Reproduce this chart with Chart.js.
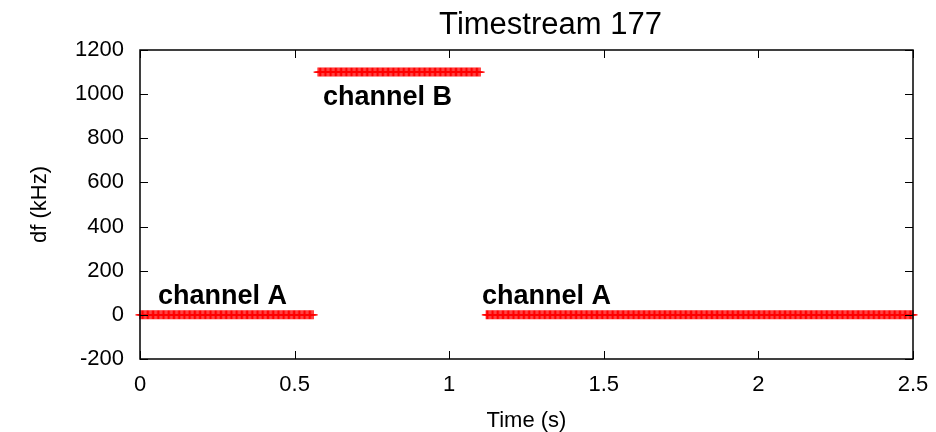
<!DOCTYPE html>
<html>
<head>
<meta charset="utf-8">
<script src="https://cdn.jsdelivr.net/npm/chart.js@4/dist/chart.umd.min.js"></script>
<style>
  html, body { margin: 0; padding: 0; background: #fff; }
  #wrap { width: 936px; height: 432px; position: relative; }
</style>
</head>
<body>
<div id="wrap"><canvas id="c" width="936" height="432"></canvas></div>
<script>
// Timestream 177: frequency shift per channel over time
const chartTitle = "Timestream 177";
const xTitle = "Time (s)";
const yTitle = "df (kHz)";

const xTicks = [0, 0.5, 1, 1.5, 2, 2.5];
const xTickLabels = ["0", "0.5", "1", "1.5", "2", "2.5"];
const yTicks = [-200, 0, 200, 400, 600, 800, 1000, 1200];
const yTickLabels = ["-200", "0", "200", "400", "600", "800", "1000", "1200"];

// sampling period of the timestream (s)
const samplePeriod = 0.004;

// segments: which channel was read, from/to time (s), measured df (kHz)
const segChannel = ["channel A", "channel B", "channel A"];
const segStart   = [0.0,   0.576, 1.12];
const segEnd     = [0.56,  1.10,  2.5];
const segLevel   = [0,     1100,  0];

// label anchors (data units) for each segment
const labelX = [0.058, 0.592, 1.106];
const labelY = [81, 986, 81];

function segmentPoints(i) {
  const pts = [];
  const n = Math.round((segEnd[i] - segStart[i]) / samplePeriod);
  for (let k = 0; k <= n; k++) {
    pts.push({ x: +(segStart[i] + k * samplePeriod).toFixed(4), y: segLevel[i] });
  }
  return pts;
}

const FONT = "'Liberation Sans', Arial, sans-serif";

const frame = {
  id: 'frame',
  afterDatasetsDraw(chart) {
    const { ctx, chartArea: a, scales } = chart;
    const xs = scales.x, ys = scales.y;
    ctx.save();
    ctx.strokeStyle = '#000';
    ctx.lineWidth = 1.5;
    ctx.strokeRect(a.left, a.top, a.right - a.left, a.bottom - a.top);
    ctx.lineWidth = 1;
    const tl = 8;
    ctx.beginPath();
    yTicks.forEach(v => {
      const p = Math.round(ys.getPixelForValue(v)) + 0.5;
      ctx.moveTo(a.left, p); ctx.lineTo(a.left + tl, p);
      ctx.moveTo(a.right, p); ctx.lineTo(a.right - tl, p);
    });
    xTicks.forEach(v => {
      const p = Math.round(xs.getPixelForValue(v)) + 0.5;
      ctx.moveTo(p, a.bottom); ctx.lineTo(p, a.bottom - tl);
      ctx.moveTo(p, a.top); ctx.lineTo(p, a.top + tl);
    });
    ctx.stroke();

    // segment labels
    ctx.fillStyle = '#000';
    ctx.font = "bold 27px " + FONT;
    ctx.textAlign = 'left';
    ctx.textBaseline = 'middle';
    segChannel.forEach((t, i) => {
      ctx.fillText(t, xs.getPixelForValue(labelX[i]), ys.getPixelForValue(labelY[i]));
    });

    // titles
    ctx.font = "31px " + FONT;
    ctx.textAlign = 'center';
    ctx.textBaseline = 'alphabetic';
    ctx.fillText(chartTitle, (a.left + a.right) / 2 + 24, 34);
    ctx.font = "22px " + FONT;
    ctx.fillText(xTitle, (a.left + a.right) / 2, 427);
    ctx.save();
    ctx.translate(40, (a.top + a.bottom) / 2);
    ctx.rotate(-Math.PI / 2);
    ctx.textBaseline = 'middle';
    ctx.fillText(yTitle, 0, 0);
    ctx.restore();
    ctx.restore();
  }
};

new Chart(document.getElementById('c'), {
  type: 'scatter',
  data: {
    datasets: segChannel.map((name, i) => ({
      label: name,
      data: segmentPoints(i),
      pointStyle: 'cross',
      pointRadius: 4.5,
      pointHoverRadius: 4.5,
      borderColor: '#ff0000',
      backgroundColor: '#ff0000',
      pointBorderWidth: 1.2,
      showLine: false,
      clip: false
    }))
  },
  options: {
    responsive: false,
    animation: false,
    events: [],
    layout: { padding: { top: 50, right: 23, left: 0, bottom: 0 } },
    plugins: { legend: { display: false }, tooltip: { enabled: false }, title: { display: false } },
    scales: {
      x: {
        type: 'linear', min: 0, max: 2.5,
        afterFit: s => { s.height = 73; s.paddingRight = 0; s.paddingLeft = 0; },
        afterBuildTicks: s => { s.ticks = xTicks.map(v => ({ value: v })); },
        grid: { display: false, drawTicks: false },
        border: { display: false },
        ticks: {
          color: '#000', padding: 13, maxRotation: 0,
          font: { family: FONT, size: 22 },
          callback: (v) => { const i = xTicks.indexOf(v); return i >= 0 ? xTickLabels[i] : ''; }
        }
      },
      y: {
        type: 'linear', min: -200, max: 1200,
        afterFit: s => { s.width = 140; s.paddingTop = 0; s.paddingBottom = 0; },
        afterBuildTicks: s => { s.ticks = yTicks.map(v => ({ value: v })); },
        grid: { display: false, drawTicks: false },
        border: { display: false },
        ticks: {
          color: '#000', padding: 16,
          font: { family: FONT, size: 22 },
          callback: (v) => { const i = yTicks.indexOf(v); return i >= 0 ? yTickLabels[i] : ''; }
        }
      }
    }
  },
  plugins: [frame]
});
</script>
</body>
</html>
